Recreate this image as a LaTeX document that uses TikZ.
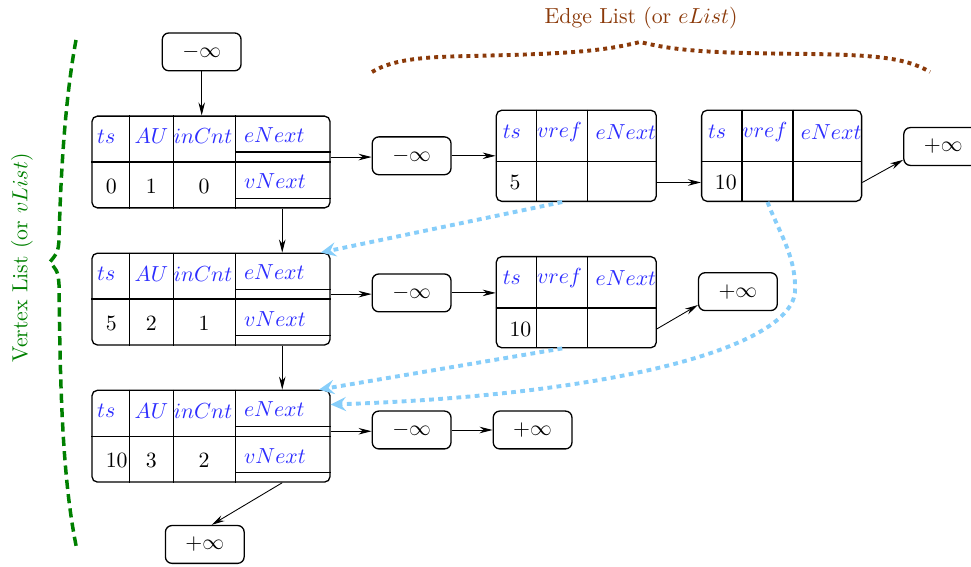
\documentclass[tikz,border=0pt]{standalone}
\usepackage{xcolor}
\definecolor{vlistgreen}{RGB}{0,128,0}
\definecolor{elistbrown}{RGB}{139,58,10}
\definecolor{fieldblue}{RGB}{45,45,255}
\definecolor{vrefblue}{RGB}{135,206,250}
\usepackage{tikz}
\usetikzlibrary{arrows.meta,positioning}

\begin{document}
\begin{tikzpicture}[
        vbox/.style={rectangle, draw, semithick, rounded corners=2.5pt, minimum width=3.84cm, minimum height=1.48cm, inner sep=0pt},
        ebox/.style={rectangle, draw, semithick, rounded corners=2.5pt, minimum width=2.58cm, minimum height=1.47cm, inner sep=0pt},
        sentinel/.style={rectangle, draw, semithick, rounded corners=3pt, minimum width=1.27cm, minimum height=0.61cm},
        field/.style={text=fieldblue},
        divider/.style={semithick},
        arrow/.style={->, >={Stealth[length=6pt, width=3pt]}},
        vrefarrow/.style={-{Stealth[length=7pt, width=6.5pt, inset=2.5pt]}, vrefblue, line width=1.8pt, dash pattern=on 2.2pt off 2pt},
        vbrace/.style={vlistgreen, line width=1.6pt, dash pattern=on 4.2pt off 2.4pt},
        ebrace/.style={elistbrown, line width=1.8pt, dash pattern=on 1.8pt off 1.9pt}
    ]
        \useasboundingbox (0,0) rectangle (15.661,-9.129);

        % Vertex list
        \node[vbox] (v1) at (3.403,-2.613) {};
        \node[vbox, below=0.71cm of v1] (v2) {};
        \node[vbox, below=0.71cm of v2] (v3) {};
        \node[sentinel, above=0.71cm of v1, xshift=-0.15cm] (vhead) {$-\infty$};
        \node[sentinel, below=0.68cm of v3, xshift=-0.1cm] (vtail) {$+\infty$};

        % Vertex fields
        \foreach \rec/\ts/\au/\cnt in {v1/0/1/0, v2/5/2/1, v3/10/3/2} {
            \draw[divider] ([xshift=0.613cm]\rec.north west) -- ([xshift=0.613cm]\rec.south west);
            \draw[divider] ([xshift=1.323cm]\rec.north west) -- ([xshift=1.323cm]\rec.south west);
            \draw[divider] ([xshift=2.323cm]\rec.north west) -- ([xshift=2.323cm]\rec.south west);
            \draw[divider] (\rec.west) -- (\rec.east);
            \draw[divider] ([xshift=2.323cm, yshift=0.16cm]\rec.west) -- ([yshift=0.16cm]\rec.east);
            \draw[divider] ([xshift=2.323cm, yshift=0.16cm]\rec.south west) -- ([yshift=0.16cm]\rec.south east);
            \node[field] (\rec-tsl) at ([xshift=0.24cm, yshift=-0.34cm]\rec.north west) {$ts$};
            \node[field] (\rec-aul) at ([xshift=0.968cm, yshift=-0.34cm]\rec.north west) {$AU$};
            \node[field] (\rec-cntl) at ([xshift=1.8cm, yshift=-0.34cm]\rec.north west) {$inCnt$};
            \node[field, anchor=west] (\rec-enl) at ([xshift=2.34cm, yshift=-0.32cm]\rec.north west) {$eNext$};
            \node[field, anchor=west] (\rec-vnl) at ([xshift=2.34cm, yshift=-1.065cm]\rec.north west) {$vNext$};
            \node[anchor=west] (\rec-tsn) at ([xshift=0.11cm, yshift=-1.145cm]\rec.north west) {\ts};
            \node (\rec-aun) at ([xshift=0.968cm, yshift=-1.145cm]\rec.north west) {\au};
            \node (\rec-cntn) at ([xshift=1.82cm, yshift=-1.145cm]\rec.north west) {\cnt};
            \coordinate (\rec-e) at ([yshift=0.08cm]\rec.east);
            \coordinate (\rec-v) at ([xshift=3.08cm]\rec.south west);
        }

        % Edge lists
        \node[sentinel, right=0.66cm of v1, yshift=0.1cm] (n1) {$-\infty$};
        \node[ebox, right=0.71cm of n1] (e1) {};
        \node[ebox, right=0.71cm of e1] (e2) {};
        \node[sentinel, right=0.66cm of e2, yshift=0.15cm] (p1) {$+\infty$};
        \node[sentinel, right=0.66cm of v2, yshift=0.1cm] (n2) {$-\infty$};
        \node[ebox, right=0.71cm of n2, yshift=-0.15cm] (e3) {};
        \node[sentinel, right=0.66cm of e3, yshift=0.17cm] (p2) {$+\infty$};
        \node[sentinel, right=0.66cm of v3, yshift=0.1cm] (n3) {$-\infty$};
        \node[sentinel, right=0.66cm of n3] (p3) {$+\infty$};

        % Edge fields
        \foreach \rec/\ts in {e1/5, e2/10, e3/10} {
            \draw[divider] ([xshift=0.661cm]\rec.north west) -- ([xshift=0.661cm]\rec.south west);
            \draw[divider] ([xshift=1.484cm]\rec.north west) -- ([xshift=1.484cm]\rec.south west);
            \draw[divider] ([yshift=-0.839cm]\rec.north west) -- ([yshift=-0.839cm]\rec.north east);
            \node[field] (\rec-tsl) at ([xshift=0.26cm, yshift=-0.355cm]\rec.north west) {$ts$};
            \node[field] (\rec-refl) at ([xshift=1.03cm, yshift=-0.355cm]\rec.north west) {$vref$};
            \node[field] (\rec-enl) at ([xshift=2.1cm, yshift=-0.355cm]\rec.north west) {$eNext$};
            \node[anchor=west] (\rec-tsn) at ([xshift=0.1cm, yshift=-1.18cm]\rec.north west) {\ts};
            \coordinate (\rec-r) at ([xshift=1.073cm]\rec.south west);
            \coordinate (\rec-n) at ([yshift=0.315cm]\rec.south east);
        }

        % Labels
        \node[text=elistbrown] (elist) at (10.339,-0.29) {Edge List (or $eList$)};
        \node[text=vlistgreen, rotate=90] (vlist) at (0.355,-4.16) {Vertex List (or $vList$)};

        % Braces
        \draw[vbrace] (1.226,-0.645) .. controls (1.016,-1.774) and (0.968,-3.226) .. (0.952,-3.871)
            .. controls (0.935,-4.065) .. (0.806,-4.226)
            .. controls (0.935,-4.387) .. (0.952,-4.597)
            .. controls (0.968,-6.129) and (1.0,-7.742) .. (1.242,-8.871);
        \draw[ebrace] (6.0,-1.161) .. controls (6.371,-0.935) and (6.935,-0.919) .. (7.581,-0.903)
            .. controls (9.032,-0.871) and (9.677,-0.839) .. (10.323,-0.677)
            .. controls (10.968,-0.839) and (11.613,-0.855) .. (13.065,-0.871)
            .. controls (14.032,-0.887) and (14.597,-0.919) .. (15.0,-1.161);

        % Arrows
        \draw[arrow] (vhead.south) -- (vhead.south |- v1.north);
        \draw[arrow] (v1-v) -- (v1-v |- v2.north);
        \draw[arrow] (v2-v) -- (v2-v |- v3.north);
        \draw[arrow] (v3-v) -- ([xshift=0.11cm]vtail.north);
        \draw[arrow] (v1-e) -- (v1-e -| n1.west);
        \draw[arrow] (v2-e) -- (v2-e -| n2.west);
        \draw[arrow] (v3-e) -- (v3-e -| n3.west);
        \draw[arrow] (n1) -- (e1);
        \draw[arrow] (n2.east) -- (n2.east -| e3.west);
        \draw[arrow] (n3) -- (p3);
        \draw[arrow] (e1-n) -- (e1-n -| e2.west);
        \draw[arrow] (e2-n) -- ([yshift=0.1cm]p1.south west);
        \draw[arrow] (e3-n) -- ([yshift=0.1cm]p2.south west);

        % vref pointers
        \draw[vrefarrow] (e1-r) -- ([xshift=-0.16cm]v2.north east);
        \draw[vrefarrow] (e3-r) -- ([xshift=-0.19cm]v3.north east);
        \draw[vrefarrow] (e2-r) .. controls (12.548,-3.71) and (12.823,-4.113) .. (12.823,-4.629)
            .. controls (12.903,-5.565) and (10.0,-6.371) .. ([yshift=-0.24cm]v3.north east);

    \end{tikzpicture}
\end{document}
